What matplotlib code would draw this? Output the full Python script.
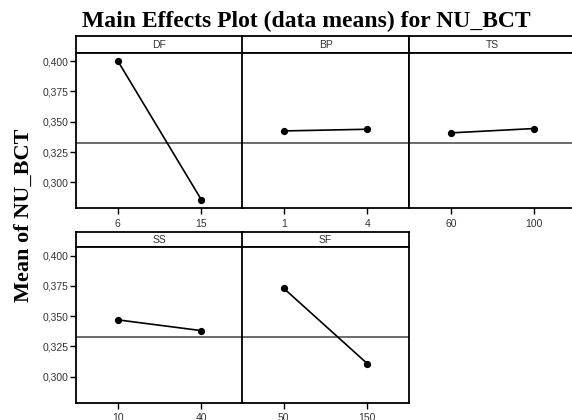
import matplotlib
matplotlib.use("Agg")
import matplotlib.pyplot as plt
from matplotlib.ticker import FuncFormatter

factors = ["DF", "BP", "TS", "SS", "SF"]
levels = [["6", "15"], ["1", "4"], ["60", "100"], ["10", "40"], ["50", "150"]]
means = [[0.4003, 0.2857], [0.3424, 0.3438], [0.3408, 0.3444], [0.3469, 0.3380], [0.3730, 0.3107]]
grand_mean = 0.3328
yticks = [0.300, 0.325, 0.350, 0.375, 0.400]

W, H = 572, 420
fig = plt.figure(figsize=(W / 100, H / 100), dpi=100)

col_x = [76, 242, 409]
col_w = 167
rows = [(36, 52.5, 208.3), (231.5, 247, 402.5)]
ylim = (0.2785, 0.4072)
tick_font = dict(family="Liberation Sans", size=7.5, color="#333333")

def fx(px):
    return px / W

def fy(py):
    return 1 - py / H

for i, name in enumerate(factors):
    r, c = divmod(i, 3)
    top, strip_bot, bot = rows[r]
    x0 = col_x[c]
    # strip
    sax = fig.add_axes([fx(x0), fy(strip_bot), fx(col_w), (strip_bot - top) / H])
    sax.set_xticks([]); sax.set_yticks([])
    for sp in sax.spines.values():
        sp.set_linewidth(1.3)
    sax.text(0.5, 0.45, name, ha="center", va="center", transform=sax.transAxes, **tick_font)
    # plot
    ax = fig.add_axes([fx(x0), fy(bot), fx(col_w), (bot - strip_bot) / H])
    ax.plot([0, 1], means[i], color="black", lw=1.2, marker="o", ms=4.2, zorder=3)
    ax.axhline(grand_mean, color="#444444", lw=1.1, zorder=2)
    ax.set_xlim(-0.5, 1.5)
    ax.set_ylim(*ylim)
    ax.set_xticks([0, 1])
    ax.set_xticklabels(levels[i], **tick_font)
    ax.set_yticks(yticks)
    if c == 0:
        ax.yaxis.set_major_formatter(FuncFormatter(lambda v, p: f"{v:.3f}".replace(".", ",")))
        for lab in ax.get_yticklabels():
            lab.set_fontfamily("Liberation Sans"); lab.set_fontsize(7.5); lab.set_color("#333333")
        ax.tick_params(axis="y", length=4, width=1, pad=1.5)
    else:
        ax.tick_params(axis="y", left=False, labelleft=False)
    ax.tick_params(axis="x", length=4.5, width=1, pad=3)
    for sp in ax.spines.values():
        sp.set_linewidth(1.3)

fig.text(fx(306), fy(27.5), "Main Effects Plot (data means) for NU_BCT", ha="center", va="baseline",
         family="Liberation Serif", weight="bold", size=17)
fig.text(fx(29), fy(215.5), "Mean of NU_BCT", ha="center", va="baseline", rotation=90,
         rotation_mode="anchor", family="Liberation Serif", weight="bold", size=16)

fig.savefig("out.png", dpi=100)
